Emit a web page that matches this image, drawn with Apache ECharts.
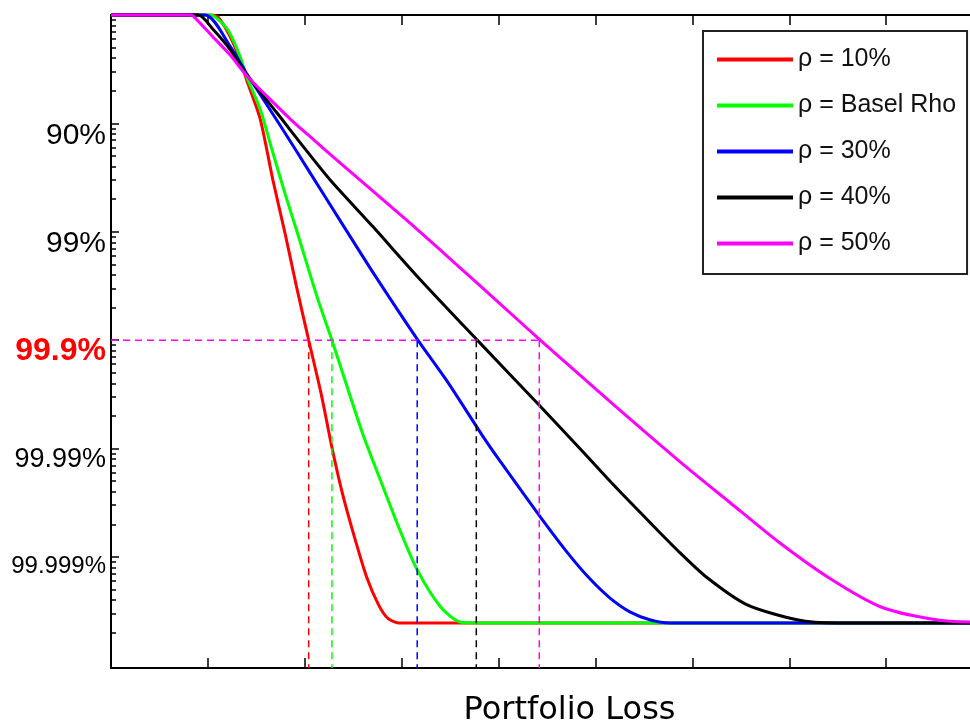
<!DOCTYPE html>
<html>
<head>
<meta charset="utf-8">
<script src="https://cdn.jsdelivr.net/npm/echarts@6/dist/echarts.min.js"></script>
<style>
  html, body { margin: 0; padding: 0; background: #fff; }
  #main { width: 970px; height: 722px; }
</style>
</head>
<body>
<div id="main"></div>
<script>
// y = decades of tail probability, -log10(1 - confidence); x = portfolio loss (tick units)
var seriesNames = ['ρ = 10%', 'ρ = Basel Rho', 'ρ = 30%', 'ρ = 40%', 'ρ = 50%'];
var seriesColors = ['#ff0000', '#00ff00', '#0000ff', '#000000', '#ff00ff'];

var rho10 = [[0,0],[0.97,0],[1.09,0.01],[1.23,0.2],[1.33,0.41],[1.40,0.60],[1.54,0.96],[1.67,1.52],[1.80,2.03],[1.92,2.53],[2.04,3.0],[2.17,3.5],[2.28,3.99],[2.39,4.42],[2.52,4.84],[2.64,5.19],[2.76,5.44],[2.86,5.57],[2.98,5.61],[9,5.61]];
var rhoBasel = [[0,0],[1.02,0],[1.20,0.13],[1.33,0.38],[1.40,0.57],[1.54,0.87],[1.67,1.27],[1.80,1.66],[1.92,2.0],[2.13,2.61],[2.28,3.0],[2.44,3.44],[2.60,3.87],[2.78,4.29],[2.98,4.75],[3.16,5.12],[3.40,5.46],[3.60,5.6],[3.81,5.61],[9,5.61]];
var rho30 = [[0,0],[0.97,0],[1.23,0.29],[1.40,0.54],[1.74,1.01],[2.05,1.45],[2.36,1.89],[2.70,2.37],[3.16,2.99],[3.47,3.38],[3.84,3.89],[4.01,4.11],[4.43,4.63],[4.71,4.96],[4.94,5.20],[5.15,5.38],[5.36,5.51],[5.56,5.58],[5.77,5.61],[9,5.61]];
var rho40 = [[0,0],[0.90,0],[1.05,0.13],[1.23,0.32],[1.40,0.55],[1.71,0.90],[1.98,1.21],[2.26,1.52],[2.70,1.95],[3.19,2.44],[3.78,3.0],[4.43,3.61],[4.87,4.03],[5.18,4.33],[5.56,4.68],[5.87,4.96],[6.15,5.19],[6.56,5.44],[7.08,5.58],[7.49,5.61],[9,5.61]];
var rho50 = [[0,0],[0.82,0],[0.85,0.01],[1.05,0.2],[1.23,0.37],[1.40,0.56],[1.61,0.75],[1.85,0.96],[2.09,1.15],[2.37,1.37],[3.06,1.9],[3.60,2.33],[4.01,2.66],[4.43,3.0],[5.18,3.59],[5.87,4.12],[6.39,4.50],[6.90,4.87],[7.42,5.20],[7.94,5.46],[8.45,5.57],[8.87,5.60],[9,5.60]];

// 99.9% cut-off and the loss where each curve crosses it
var cutLevel = 3;
var cutLoss = [2.04, 2.28, 3.16, 3.77, 4.42];

var tickDecades = [1, 2, 3, 4, 5];
var tickLabels = ['90%', '99%', '99.9%', '99.99%', '99.999%'];
var xTicks = [1, 2, 3, 4, 5, 6, 7, 8];

var yMax = 6.025;
var xMax = 8.865;

// major ticks at decades, minor ticks at m * 10^-k like a log axis
var majorTicks = [0, 1, 2, 3, 4, 5];
var minorTicks = [];
for (var k = 1; k <= 6; k++) {
  for (var m = 2; m <= 9; m++) {
    var v = k - Math.log10(m);
    if (v < 5.9) minorTicks.push(v);
  }
}

var curves = [rho10, rhoBasel, rho30, rho40, rho50];
var series = [];
curves.forEach(function (d, i) {
  series.push({
    name: seriesNames[i],
    type: 'line',
    data: d,
    symbol: 'none',
    smooth: 0.25,
    clip: false,
    color: seriesColors[i],
    lineStyle: { width: 3, color: seriesColors[i] },
    z: 3
  });
});

// horizontal 99.9% guide
series.push({
  name: 'cut',
  type: 'line',
  data: [[0, cutLevel], [cutLoss[4], cutLevel]],
  symbol: 'none',
  lineStyle: { width: 1.5, color: '#ff00ff', type: [7, 5] },
  z: 4
});
// vertical guides
cutLoss.forEach(function (x, i) {
  series.push({
    name: 'cut' + i,
    type: 'line',
    data: [[x, cutLevel], [x, yMax]],
    symbol: 'none',
    lineStyle: { width: 1.5, color: seriesColors[i], type: [7, 5] },
    z: 4
  });
});

var chart = echarts.init(document.getElementById('main'));
chart.setOption({
  backgroundColor: '#fff',
  animation: false,
  grid: { left: 111, top: 15, right: 0, height: 653, outerBoundsMode: 'none', containLabel: false },
  legend: {
    data: seriesNames,
    orient: 'vertical',
    left: 703,
    top: 31,
    padding: [16, 11, 18, 14],
    icon: 'rect',
    itemWidth: 76,
    itemHeight: 4,
    itemGap: 21,
    backgroundColor: '#fff',
    borderColor: '#222',
    borderWidth: 2,
    textStyle: { fontFamily: 'Liberation Sans', fontSize: 25, color: '#111' }
  },
  xAxis: [{
    type: 'value',
    min: 0,
    max: xMax,
    name: 'Portfolio Loss',
    nameLocation: 'middle',
    nameGap: 27,
    nameTextStyle: { fontFamily: 'DejaVu Sans', fontSize: 32, color: '#000', padding: [0, 0, 0, 58], verticalAlign: 'top' },
    axisLine: { onZero: false, lineStyle: { color: '#000', width: 2 } },
    axisTick: { inside: true, length: 10, customValues: xTicks, lineStyle: { color: '#000', width: 1.5 } },
    axisLabel: { show: false },
    splitLine: { show: false }
  }, {
    type: 'value',
    position: 'top',
    min: 0,
    max: xMax,
    axisLine: { onZero: false, lineStyle: { color: '#000', width: 2 } },
    axisTick: { inside: true, length: 10, customValues: xTicks, lineStyle: { color: '#000', width: 1.5 } },
    axisLabel: { show: false },
    splitLine: { show: false }
  }],
  yAxis: [{
    type: 'value',
    inverse: true,
    min: 0,
    max: yMax,
    axisLine: { onZero: false, lineStyle: { color: '#000', width: 2 } },
    axisTick: { inside: true, length: 8, customValues: majorTicks, lineStyle: { color: '#000', width: 1.5 } },
    axisLabel: {
      customValues: tickDecades,
      margin: 5,
      formatter: function (v) {
        var i = tickDecades.indexOf(Math.round(v));
        if (i < 0) return '';
        var key = ['a', 'a', 'hl', 'b', 'c'][i];
        return '{' + key + '|' + tickLabels[i] + '}';
      },
      rich: {
        a: { fontFamily: 'Liberation Sans', fontSize: 30, color: '#000', padding: [24, 0, 0, 0] },
        hl: { fontFamily: 'Liberation Sans', fontSize: 32, fontWeight: 'bold', color: '#ff0000', padding: [22, 0, 0, 0] },
        b: { fontFamily: 'Liberation Sans', fontSize: 27, color: '#000', padding: [22, 0, 0, 0] },
        c: { fontFamily: 'Liberation Sans', fontSize: 24, color: '#000', padding: [18, 0, 0, 0] }
      }
    },
    splitLine: { show: false }
  }, {
    type: 'value',
    inverse: true,
    min: 0,
    max: yMax,
    position: 'left',
    axisLine: { show: false },
    axisTick: { inside: true, length: 5, customValues: minorTicks, lineStyle: { color: '#000', width: 1.5 } },
    axisLabel: { show: false },
    splitLine: { show: false }
  }],
  series: series
});
</script>
</body>
</html>
